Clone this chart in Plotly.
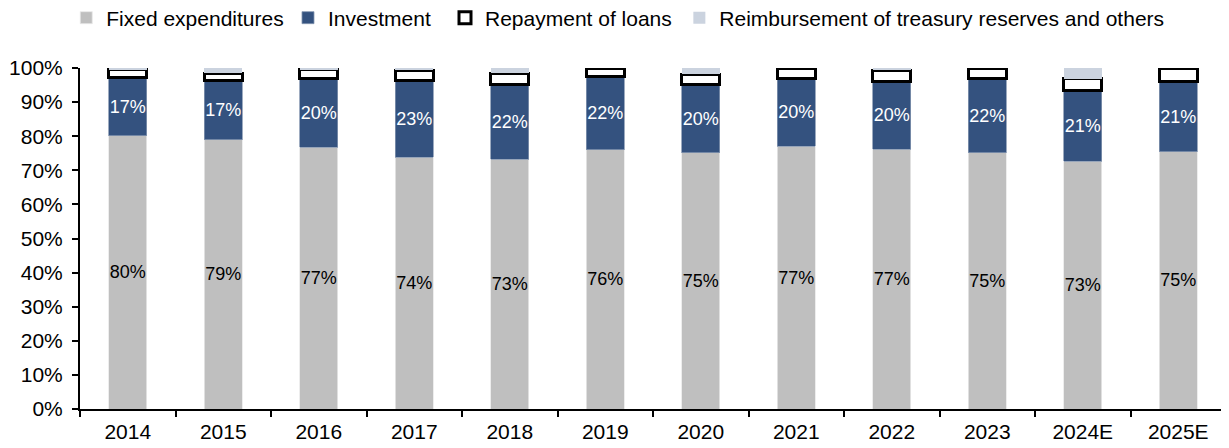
import plotly.graph_objects as go

years = ["2014", "2015", "2016", "2017", "2018", "2019", "2020", "2021", "2022", "2023", "2024E", "2025E"]
fixed = [80.1, 78.9, 76.8, 73.9, 73.3, 76.0, 75.1, 77.1, 76.2, 75.1, 72.7, 75.4]
investment = [17.1, 17.3, 20.0, 22.3, 22.0, 21.4, 20.1, 19.9, 19.8, 21.7, 20.6, 20.6]
repayment = [2.5, 2.2, 2.9, 3.1, 3.1, 2.6, 3.0, 3.0, 3.3, 3.2, 3.5, 4.0]
reimbursement = [0.3, 1.6, 0.3, 0.7, 1.6, 0.0, 1.8, 0.0, 0.7, 0.0, 3.2, 0.0]
fixed_labels = ["80%", "79%", "77%", "74%", "73%", "76%", "75%", "77%", "77%", "75%", "73%", "75%"]
invest_labels = ["17%", "17%", "20%", "23%", "22%", "22%", "20%", "20%", "20%", "22%", "21%", "21%"]

FONT = "Liberation Sans, Arial, sans-serif"

fig = go.Figure()
fig.add_trace(go.Bar(
    name="Fixed expenditures", x=years, y=fixed, text=fixed_labels, legend="legend",
    textposition="inside", insidetextanchor="middle", textangle=0, constraintext="none",
    textfont=dict(color="black", size=18, family=FONT),
    marker=dict(color="#BFBFBF", line=dict(color="#E8E8E8", width=0.8)),
    hoverinfo="skip",
))
fig.add_trace(go.Bar(
    name="Investment", x=years, y=investment, text=invest_labels, legend="legend2",
    textposition="inside", insidetextanchor="middle", textangle=0, constraintext="none",
    textfont=dict(color="white", size=18, family=FONT),
    marker=dict(color="#34527F", line=dict(color="#8496B0", width=0.8)),
    hoverinfo="skip",
))
fig.add_trace(go.Bar(
    name="Repayment of loans", x=years, y=repayment, legend="legend3",
    marker=dict(color="white", line=dict(color="black", width=3)),
    hoverinfo="skip",
))
fig.add_trace(go.Bar(
    name="Reimbursement of treasury reserves and others", x=years, y=reimbursement, legend="legend4",
    marker=dict(color="#CBD3DF", line=dict(width=0)),
    hoverinfo="skip",
))

def leg(x):
    return dict(
        orientation="h", x=x, xanchor="left", y=1.1466, yanchor="middle",
        font=dict(size=21, family=FONT, color="black"), itemwidth=30,
        bgcolor="rgba(0,0,0,0)",
    )

fig.update_layout(
    barmode="stack",
    bargap=0.6,
    width=1221, height=440,
    margin=dict(l=72, r=3, t=60, b=39, autoexpand=False),
    plot_bgcolor="white", paper_bgcolor="white",
    font=dict(family=FONT, size=21, color="black"),
    showlegend=True,
    legend=leg(-0.0120),
    legend2=leg(0.1815),
    legend3=leg(0.3185),
    legend4=leg(0.5230),
    xaxis=dict(
        type="category", showline=True, linecolor="black", linewidth=2,
        ticks="outside", tickson="boundaries", ticklen=6, tickwidth=2, tickcolor="black",
        showgrid=False, tickfont=dict(size=21, family=FONT), ticklabelstandoff=3,
    ),
    yaxis=dict(
        range=[0, 100], dtick=10, ticksuffix="%", showline=True, linecolor="black", linewidth=2,
        ticks="outside", ticklen=6, tickwidth=2, tickcolor="black",
        showgrid=False, zeroline=False, tickfont=dict(size=21, family=FONT), ticklabelstandoff=5,
    ),
)

fig.write_html("out.html")
